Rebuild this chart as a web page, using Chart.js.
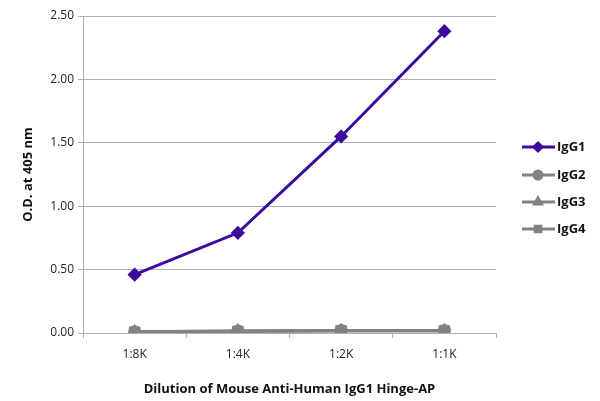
<!DOCTYPE html>
<html>
<head>
<meta charset="utf-8">
<script src="https://cdn.jsdelivr.net/npm/chart.js@4"></script>
<style>
  html, body { margin: 0; padding: 0; background: #fff; }
  #wrap { width: 600px; height: 401px; }
</style>
</head>
<body>
<div id="wrap"><canvas id="chart"></canvas></div>
<script>
const dilutions = ['1:8K', '1:4K', '1:2K', '1:1K'];
const igg1 = [0.46, 0.79, 1.55, 2.38];
const igg2 = [0.01, 0.015, 0.02, 0.02];
const igg3 = [0.01, 0.015, 0.02, 0.02];
const igg4 = [0.005, 0.012, 0.015, 0.015];
const yTicks = [0, 0.5, 1, 1.5, 2, 2.5];

const purple = '#3d0a9e';
const gray = '#828282';

function series(label, data, color, style, radius) {
    return {
        label: label,
        data: data,
        borderColor: color,
        backgroundColor: color,
        borderWidth: 3,
        pointStyle: style,
        pointRadius: radius,
        pointHoverRadius: radius,
        tension: 0
    };
}

// legend drawn by hand so its place can be fixed
const sideLegend = {
    id: 'sideLegend',
    afterDraw(chart) {
        const c = chart.ctx;
        const ys = [147, 175, 202, 229];
        chart.data.datasets.forEach((ds, i) => {
            const y = ys[i];
            c.save();
            c.strokeStyle = ds.borderColor;
            c.lineWidth = 3;
            c.beginPath();
            c.moveTo(522, y);
            c.lineTo(555, y);
            c.stroke();
            Chart.helpers.drawPoint(c, {
                pointStyle: ds.pointStyle,
                radius: 4,
                borderWidth: 1
            }, 538, y);
            c.fillStyle = ds.borderColor;
            c.fill();
            c.fillStyle = '#111';
            c.font = 'bold 13px "Open Sans"';
            c.textBaseline = 'middle';
            c.fillText(ds.label, 557, y);
            c.restore();
        });
    }
};

new Chart(document.getElementById('chart'), {
    type: 'line',
    data: {
        labels: dilutions,
        datasets: [
            series('IgG1', igg1, purple, 'rectRot', 5),
            series('IgG2', igg2, gray, 'circle', 5),
            series('IgG3', igg3, gray, 'triangle', 5),
            series('IgG4', igg4, gray, 'rect', 6)
        ]
    },
    options: {
        responsive: true,
        maintainAspectRatio: false,
        animation: false,
        layout: { padding: { top: 16, right: 104, left: 16, bottom: 0 } },
        plugins: { legend: { display: false }, tooltip: { enabled: false } },
        scales: {
            x: {
                offset: true,
                grid: { display: true, offset: true, drawOnChartArea: false, color: '#b0b0b0', tickLength: 5 },
                border: { color: '#b0b0b0' },
                ticks: { color: '#222', font: { family: 'Open Sans', size: 12 }, padding: 9 },
                title: { display: true, text: 'Dilution of Mouse Anti-Human IgG1 Hinge-AP', color: '#111', font: { family: 'Open Sans', size: 13, weight: 'bold' }, padding: { top: 10 } },
                afterFit: s => { s.height = 68; }
            },
            y: {
                min: 0,
                max: 2.5,
                afterBuildTicks: s => { s.ticks = yTicks.map(v => ({ value: v })); },
                grid: { color: '#b0b0b0', tickLength: 5 },
                border: { color: '#b0b0b0' },
                ticks: { color: '#222', font: { family: 'Open Sans', size: 12 }, callback: v => v.toFixed(2), padding: 4 },
                title: { display: true, text: 'O.D. at 405 nm', color: '#111', font: { family: 'Open Sans', size: 13, weight: 'bold' } },
                afterFit: s => { s.width = 67; }
            }
        }
    },
    plugins: [sideLegend]
});
</script>
</body>
</html>
